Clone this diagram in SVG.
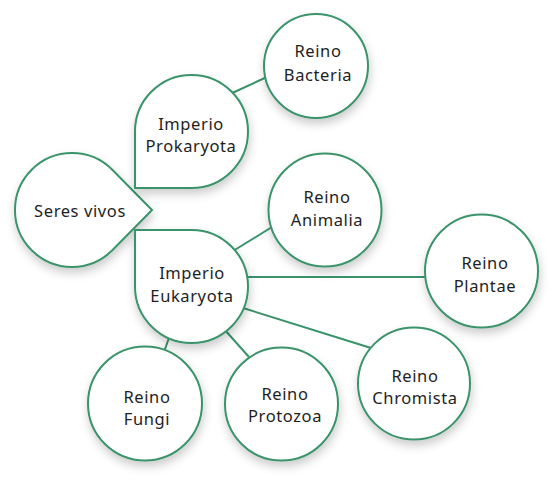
<svg xmlns="http://www.w3.org/2000/svg" width="557" height="480" viewBox="0 0 557 480">
<defs>
<filter id="sh" x="-30%" y="-30%" width="160%" height="170%">
<feDropShadow dx="1" dy="5" stdDeviation="5" flood-color="#000" flood-opacity="0.2"/>
</filter>
<style>
.n{fill:#fff;stroke:#3a936b;stroke-width:2;filter:url(#sh)}
.c line{stroke:#3a936b;stroke-width:2}
text{font-family:"Noto Sans","DejaVu Sans",sans-serif;font-size:16.5px;fill:#1e1e1e;text-anchor:middle;letter-spacing:0.6px}
</style>
</defs>
<rect width="557" height="480" fill="#fff"/>
<g class="c" id="connectors">
<line x1="230" y1="94" x2="267" y2="77"/>
<line x1="233" y1="251" x2="272" y2="227"/>
<line x1="246" y1="277" x2="427" y2="277"/>
<line x1="243" y1="308" x2="371" y2="348"/>
<line x1="224" y1="329" x2="249" y2="357"/>
<line x1="170" y1="335" x2="164" y2="352"/>
</g>
<g id="seres-vivos">
<path class="n" d="M152,210 L112.3,250.3 A57,57 0 1 1 112.3,169.7 Z"/>
<text x="80" y="217">Seres vivos</text>
</g>
<g id="imperio-prokaryota">
<path class="n" d="M135,188 L135,131.5 A56.5,56.5 0 1 1 191.5,188 Z"/>
<text x="191" y="130">Imperio</text>
<text x="191" y="152">Prokaryota</text>
</g>
<g id="imperio-eukaryota">
<path class="n" d="M135,230 L191.5,230 A56.5,56.5 0 1 1 135,286.5 Z"/>
<text x="192" y="279">Imperio</text>
<text x="192" y="302">Eukaryota</text>
</g>
<g id="reino-bacteria">
<circle class="n" cx="316" cy="66" r="52"/>
<text x="318" y="57">Reino</text>
<text x="318" y="81">Bacteria</text>
</g>
<g id="reino-animalia">
<circle class="n" cx="325" cy="210" r="56.5"/>
<text x="327" y="203">Reino</text>
<text x="327" y="226">Animalia</text>
</g>
<g id="reino-plantae">
<circle class="n" cx="481.5" cy="271" r="56.5"/>
<text x="485" y="269">Reino</text>
<text x="485" y="292">Plantae</text>
</g>
<g id="reino-chromista">
<circle class="n" cx="414" cy="383.5" r="56"/>
<text x="415" y="382">Reino</text>
<text x="415" y="404">Chromista</text>
</g>
<g id="reino-protozoa">
<circle class="n" cx="281.5" cy="404" r="56.5"/>
<text x="285" y="400">Reino</text>
<text x="285" y="422">Protozoa</text>
</g>
<g id="reino-fungi">
<circle class="n" cx="145" cy="403.5" r="57"/>
<text x="147" y="403">Reino</text>
<text x="147" y="425">Fungi</text>
</g>
</svg>
